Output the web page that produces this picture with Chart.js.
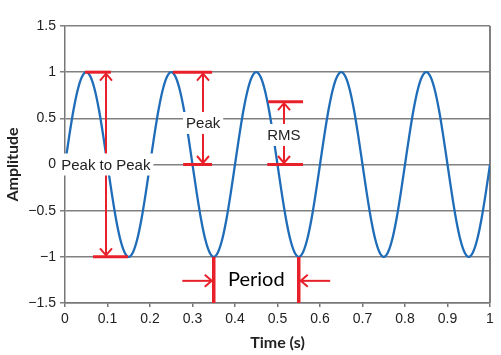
<!DOCTYPE html>
<html><head><meta charset="utf-8">
<script src="https://cdn.jsdelivr.net/npm/chart.js@4"></script>
<style>html,body{margin:0;padding:0;background:#fff}</style>
</head><body>
<canvas id="c" width="501" height="355"></canvas>
<script>
// ---- data ----
const times = [0.00,0.01,0.02,0.03,0.04,0.05,0.06,0.07,0.08,0.09,
0.10,0.11,0.12,0.13,0.14,0.15,0.16,0.17,0.18,0.19,
0.20,0.21,0.22,0.23,0.24,0.25,0.26,0.27,0.28,0.29,
0.30,0.31,0.32,0.33,0.34,0.35,0.36,0.37,0.38,0.39,
0.40,0.41,0.42,0.43,0.44,0.45,0.46,0.47,0.48,0.49,
0.50,0.51,0.52,0.53,0.54,0.55,0.56,0.57,0.58,0.59,
0.60,0.61,0.62,0.63,0.64,0.65,0.66,0.67,0.68,0.69,
0.70,0.71,0.72,0.73,0.74,0.75,0.76,0.77,0.78,0.79,
0.80,0.81,0.82,0.83,0.84,0.85,0.86,0.87,0.88,0.89,
0.90,0.91,0.92,0.93,0.94,0.95,0.96,0.97,0.98,0.99,1.00];
const amplitude = [0,0.31,0.59,0.81,0.95,1,0.95,0.81,0.59,0.31,
0,-0.31,-0.59,-0.81,-0.95,-1,-0.95,-0.81,-0.59,-0.31,
0,0.31,0.59,0.81,0.95,1,0.95,0.81,0.59,0.31,
0,-0.31,-0.59,-0.81,-0.95,-1,-0.95,-0.81,-0.59,-0.31,
0,0.31,0.59,0.81,0.95,1,0.95,0.81,0.59,0.31,
0,-0.31,-0.59,-0.81,-0.95,-1,-0.95,-0.81,-0.59,-0.31,
0,0.31,0.59,0.81,0.95,1,0.95,0.81,0.59,0.31,
0,-0.31,-0.59,-0.81,-0.95,-1,-0.95,-0.81,-0.59,-0.31,
0,0.31,0.59,0.81,0.95,1,0.95,0.81,0.59,0.31,
0,-0.31,-0.59,-0.81,-0.95,-1,-0.95,-0.81,-0.59,-0.31,0];

// annotation values (data coordinates)
const arrowX     = [0.096, 0.325, 0.515];        // vertical measure arrows
const arrowTop   = [1, 1, 0.68];
const arrowBot   = [-1, 0, 0];
const barY       = [1, -1, 1, 0, 0.68, 0];
const barFrom    = [0.047, 0.066, 0.254, 0.278, 0.478, 0.476];
const barTo      = [0.108, 0.148, 0.346, 0.346, 0.560, 0.560];
const labelText  = ['Peak to Peak', 'Peak', 'RMS'];
const labelX     = [0.096, 0.325, 0.515];
const labelY     = [0, 0.45, 0.32];
const periodT    = [0.35, 0.55];
const periodArrowY = -1.26;
const periodLabel = 'Period';

const RED = '#e8202a';
const points = times.map((t, i) => ({x: t, y: amplitude[i]}));

function fmt(v) {
  const r = Math.round(v * 10) / 10;
  return r < 0 ? '\u2212' + String(-r) : String(r);
}

function arrowHead(ctx, x, y, dx, dy) {
  // tip at (x,y), pointing in direction (dx,dy)
  const len = 7, half = 6;
  const px = -dy, py = dx;
  ctx.beginPath();
  ctx.moveTo(x - dx * len + px * half, y - dy * len + py * half);
  ctx.lineTo(x, y);
  ctx.lineTo(x - dx * len - px * half, y - dy * len - py * half);
  ctx.stroke();
}

const annot = {
  id: 'annot',
  beforeDatasetsDraw(chart) {
    const {ctx, chartArea: a} = chart;
    ctx.save();
    ctx.strokeStyle = '#808080';
    ctx.lineWidth = 2;
    ctx.beginPath();
    ctx.moveTo(a.right, a.top); ctx.lineTo(a.right, a.bottom);
    ctx.stroke();
    ctx.restore();
  },
  afterDatasetsDraw(chart) {
    const {ctx, scales: {x, y}} = chart;
    ctx.save();
    ctx.strokeStyle = RED;
    ctx.lineCap = 'butt';
    // bars
    ctx.lineWidth = 3;
    barY.forEach((v, i) => {
      ctx.beginPath();
      ctx.moveTo(x.getPixelForValue(barFrom[i]), y.getPixelForValue(v));
      ctx.lineTo(x.getPixelForValue(barTo[i]), y.getPixelForValue(v));
      ctx.stroke();
    });
    // vertical arrows
    ctx.lineWidth = 2;
    arrowX.forEach((t, i) => {
      const px = Math.round(x.getPixelForValue(t));
      const y1 = y.getPixelForValue(arrowTop[i]) + 1.5;
      const y2 = y.getPixelForValue(arrowBot[i]) - 1.5;
      ctx.beginPath(); ctx.moveTo(px, y1); ctx.lineTo(px, y2); ctx.stroke();
      arrowHead(ctx, px, y1, 0, -1);
      arrowHead(ctx, px, y2, 0, 1);
    });
    // period lines
    ctx.lineWidth = 3.5;
    periodT.forEach(t => {
      const px = x.getPixelForValue(t);
      ctx.beginPath();
      ctx.moveTo(px, y.getPixelForValue(-1));
      ctx.lineTo(px, y.getPixelForValue(-1.5));
      ctx.stroke();
    });
    // period arrows
    ctx.lineWidth = 2;
    const ay = y.getPixelForValue(periodArrowY);
    const l0 = x.getPixelForValue(0.276), l1 = x.getPixelForValue(periodT[0]) - 2;
    ctx.beginPath(); ctx.moveTo(l0, ay); ctx.lineTo(l1, ay); ctx.stroke();
    arrowHead(ctx, l1, ay, 1, 0);
    const r0 = x.getPixelForValue(0.624), r1 = x.getPixelForValue(periodT[1]) + 2;
    ctx.beginPath(); ctx.moveTo(r0, ay); ctx.lineTo(r1, ay); ctx.stroke();
    arrowHead(ctx, r1, ay, -1, 0);
    // text labels with white backgrounds
    ctx.font = '15px "Liberation Sans", Arial, sans-serif';
    ctx.textAlign = 'center';
    ctx.textBaseline = 'middle';
    labelText.forEach((s, i) => {
      const px = x.getPixelForValue(labelX[i]);
      const py = y.getPixelForValue(labelY[i]);
      const w = ctx.measureText(s).width + 6;
      ctx.fillStyle = '#fff';
      ctx.fillRect(px - w / 2, py - 11, w, 22);
      ctx.fillStyle = '#222';
      ctx.fillText(s, px, py + 1);
    });
    ctx.font = '20px Lato, sans-serif';
    ctx.fillStyle = '#000';
    ctx.fillText(periodLabel, (x.getPixelForValue(periodT[0]) + x.getPixelForValue(periodT[1])) / 2, ay - 1);
    ctx.restore();
  }
};

new Chart(document.getElementById('c'), {
  type: 'line',
  data: {
    datasets: [{
      data: points,
      borderColor: '#1f6db8',
      borderWidth: 2.3,
      pointRadius: 0,
      cubicInterpolationMode: 'monotone',
      fill: false
    }]
  },
  options: {
    responsive: false,
    animation: false,
    events: [],
    layout: {padding: {top: 26, right: 11, left: 0, bottom: 0}},
    plugins: {legend: {display: false}, tooltip: {enabled: false}},
    scales: {
      x: {
        type: 'linear', min: 0, max: 1,
        afterFit(s) { s.height = 52; },
        ticks: {stepSize: 0.1, padding: 4, color: '#222',
          font: {family: '"Liberation Sans", Arial, sans-serif', size: 14},
          callback: v => fmt(v), maxRotation: 0},
        grid: {drawOnChartArea: false, drawTicks: true, tickLength: 4, color: '#777', lineWidth: 1.5},
        border: {display: true, color: '#777', width: 1.5},
        title: {display: true, text: 'Time (s)', color: '#222',
          font: {family: 'Lato, sans-serif', size: 16, weight: 'bold'}, padding: {top: 0, bottom: 3}}
      },
      y: {
        min: -1.5, max: 1.5,
        afterFit(s) { s.width = 65; },
        ticks: {stepSize: 0.5, padding: 4, color: '#222',
          font: {family: '"Liberation Sans", Arial, sans-serif', size: 14},
          callback: v => fmt(v)},
        grid: {drawOnChartArea: true, drawTicks: true, tickLength: 5, color: '#808080', lineWidth: 1.5},
        border: {display: true, color: '#777', width: 1.5},
        title: {display: true, text: 'Amplitude', color: '#222',
          font: {family: 'Lato, sans-serif', size: 16, weight: 'bold'}, padding: {top: 3, bottom: 0}}
      }
    }
  },
  plugins: [annot]
});
</script>
</body></html>
